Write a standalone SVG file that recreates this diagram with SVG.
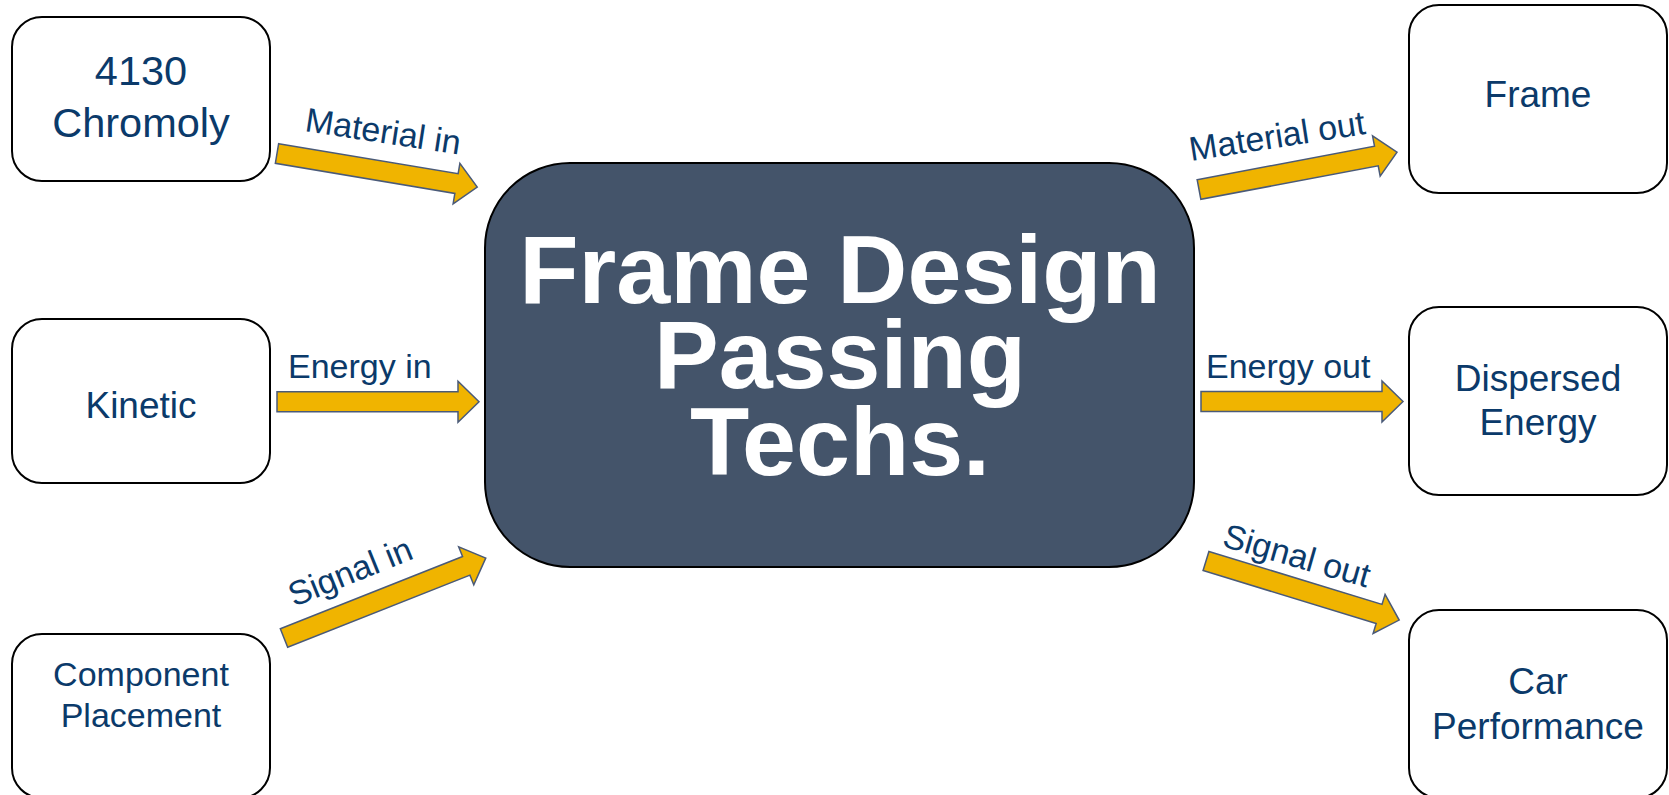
<svg xmlns="http://www.w3.org/2000/svg" width="1669" height="795" viewBox="0 0 1669 795">
<defs>
<style>
.box{fill:#ffffff;stroke:#000000;stroke-width:2}
.center{fill:#44546A;stroke:#000000;stroke-width:2}
.t{font-family:"Liberation Sans",Arial,sans-serif;fill:#0B3A6A;text-anchor:middle}
.lbl{font-family:"Liberation Sans",Arial,sans-serif;fill:#0B3A6A;font-size:34px}
.big{font-family:"Liberation Sans",Arial,sans-serif;fill:#ffffff;font-weight:bold;font-size:97px;text-anchor:middle}
.arrow{fill:#F0B400;stroke:#4A5A78;stroke-width:1.5;stroke-linejoin:miter}
</style>
</defs>
<rect width="1669" height="795" fill="#ffffff"/>

<g id="center">
<rect class="center" x="485" y="163" width="709" height="404" rx="85" ry="85"/>
<text class="big" x="840" y="303">Frame Design</text>
<text class="big" x="840" y="388">Passing</text>
<text class="big" x="840" y="475">Techs.</text>
</g>

<g id="chromoly">
<rect class="box" x="12" y="17" width="258" height="164" rx="30" ry="30"/>
<text class="t" x="141" y="85" font-size="41.5">4130</text>
<text class="t" x="141" y="137" font-size="41.5">Chromoly</text>
</g>

<g id="kinetic">
<rect class="box" x="12" y="319" width="258" height="164" rx="30" ry="30"/>
<text class="t" x="141" y="418" font-size="37">Kinetic</text>
</g>

<g id="component">
<rect class="box" x="12" y="634" width="258" height="164" rx="30" ry="30"/>
<text class="t" x="141" y="686" font-size="34">Component</text>
<text class="t" x="141" y="727" font-size="34">Placement</text>
</g>

<g id="frame">
<rect class="box" x="1409" y="5" width="258" height="188" rx="30" ry="30"/>
<text class="t" x="1538" y="107" font-size="37">Frame</text>
</g>

<g id="dispersed">
<rect class="box" x="1409" y="307" width="258" height="188" rx="30" ry="30"/>
<text class="t" x="1538" y="391" font-size="37">Dispersed</text>
<text class="t" x="1538" y="435" font-size="37">Energy</text>
</g>

<g id="car">
<rect class="box" x="1409" y="610" width="258" height="188" rx="30" ry="30"/>
<text class="t" x="1538" y="694" font-size="37">Car</text>
<text class="t" x="1538" y="739" font-size="37">Performance</text>
</g>

<g id="connectors">
<path class="arrow" transform="translate(277,153.5) rotate(9.5)" d="M0,-10 H182 V-20.5 L203,0 L182,20.5 V10 H0 Z"/>
<path class="arrow" transform="translate(277,401.7)" d="M0,-10 H181 V-20.5 L202,0 L181,20.5 V10 H0 Z"/>
<path class="arrow" transform="translate(284,638) rotate(-21.6)" d="M0,-10 H196 V-20.5 L217,0 L196,20.5 V10 H0 Z"/>
<path class="arrow" transform="translate(1199,189.5) rotate(-10.7)" d="M0,-10 H180.5 V-20.5 L201.5,0 L180.5,20.5 V10 H0 Z"/>
<path class="arrow" transform="translate(1201,401.5)" d="M0,-10 H181 V-20.5 L202,0 L181,20.5 V10 H0 Z"/>
<path class="arrow" transform="translate(1206,561) rotate(17)" d="M0,-10 H181 V-20.5 L202,0 L181,20.5 V10 H0 Z"/>
<text class="lbl" transform="translate(304,131) rotate(8.7)">Material in</text>
<text class="lbl" x="288" y="378">Energy in</text>
<text class="lbl" transform="translate(294,607) rotate(-22)">Signal in</text>
<text class="lbl" transform="translate(1191,161) rotate(-8.8)">Material out</text>
<text class="lbl" x="1206" y="378">Energy out</text>
<text class="lbl" transform="translate(1221,546) rotate(16)">Signal out</text>
</g>
</svg>
